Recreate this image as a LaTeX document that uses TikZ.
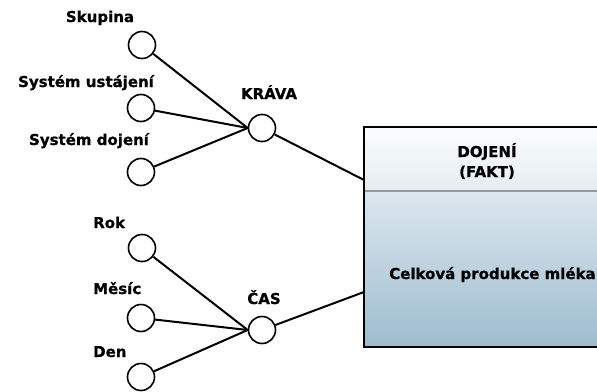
\documentclass[tikz,border=0pt]{standalone}
\usepackage{fontspec}
\setmainfont{DejaVu Sans}[BoldFeatures={FakeBold=0.8}]
\begin{document}
\begin{tikzpicture}[x=1pt,y=-1pt,
  dim/.style={circle,draw=black,line width=1.6pt,minimum size=27pt,inner sep=0pt,fill=white},
  txt/.style={inner sep=0pt,font=\bfseries\fontsize{15}{18}\selectfont},
  lbl/.style={txt,anchor=base},
  lbll/.style={txt,anchor=base west},
  link/.style={line width=2pt,black}]
\useasboundingbox (0,0) rectangle (597,391);
\clip (0,0) rectangle (597,391);

% fact table
\definecolor{headtop}{RGB}{252,253,254}
\definecolor{headbot}{RGB}{228,236,241}
\definecolor{bodytop}{RGB}{221,231,238}
\definecolor{bodybot}{RGB}{157,188,207}
\shade[top color=headtop,bottom color=headbot] (364,127) rectangle (620,191);
\shade[top color=bodytop,bottom color=bodybot] (364,191) rectangle (620,347);
\draw[black!40,line width=1.2pt] (364,191) -- (620,191);
\draw[black,line width=1.4pt] (620,127) -- (364,127) -- (364,347) -- (620,347);
\node[lbl] (fname) at (487,157) {DOJENÍ};
\node[lbl] (ftype) at (487,177) {(FAKT)};
\node[lbll] (measure) at (389,279) {Celková produkce mléka};
\coordinate (kin) at (364,180);
\coordinate (cin) at (364,292);

% dimension hubs
\node[dim] (krava) at (262,128) {};
\node[dim] (cas) at (262,330) {};
\node[lbl] (kravalbl) at (269,99) {KRÁVA};
\node[lbl] (caslbl) at (264,304) {ČAS};

% cow attributes
\node[dim] (skupina) at (142,45) {};
\node[dim] (ustajeni) at (141,108) {};
\node[dim] (dojeni) at (141,172) {};
\node[lbl] (skupinalbl) at (100,22) {Skupina};
\node[lbl] (ustajenilbl) at (86,87) {Systém ustájení};
\node[lbl] (dojenilbl) at (89,145) {Systém dojení};

% time attributes
\node[dim] (rok) at (142,248) {};
\node[dim] (mesic) at (141,318) {};
\node[dim] (den) at (141,377) {};
\node[lbll] (roklbl) at (93,228) {Rok};
\node[lbll] (mesiclbl) at (93,294) {Měsíc};
\node[lbll] (denlbl) at (93,357) {Den};

% connectors
\draw[link] (skupina) -- (krava.west);
\draw[link] (ustajeni) -- (krava.west);
\draw[link] (dojeni) -- (krava.west);
\draw[link] (rok) -- (cas.west);
\draw[link] (mesic) -- (cas.west);
\draw[link] (den) -- (cas.west);
\draw[link] (krava) -- (kin);
\draw[link] (cas) -- (cin);
\end{tikzpicture}
\end{document}
